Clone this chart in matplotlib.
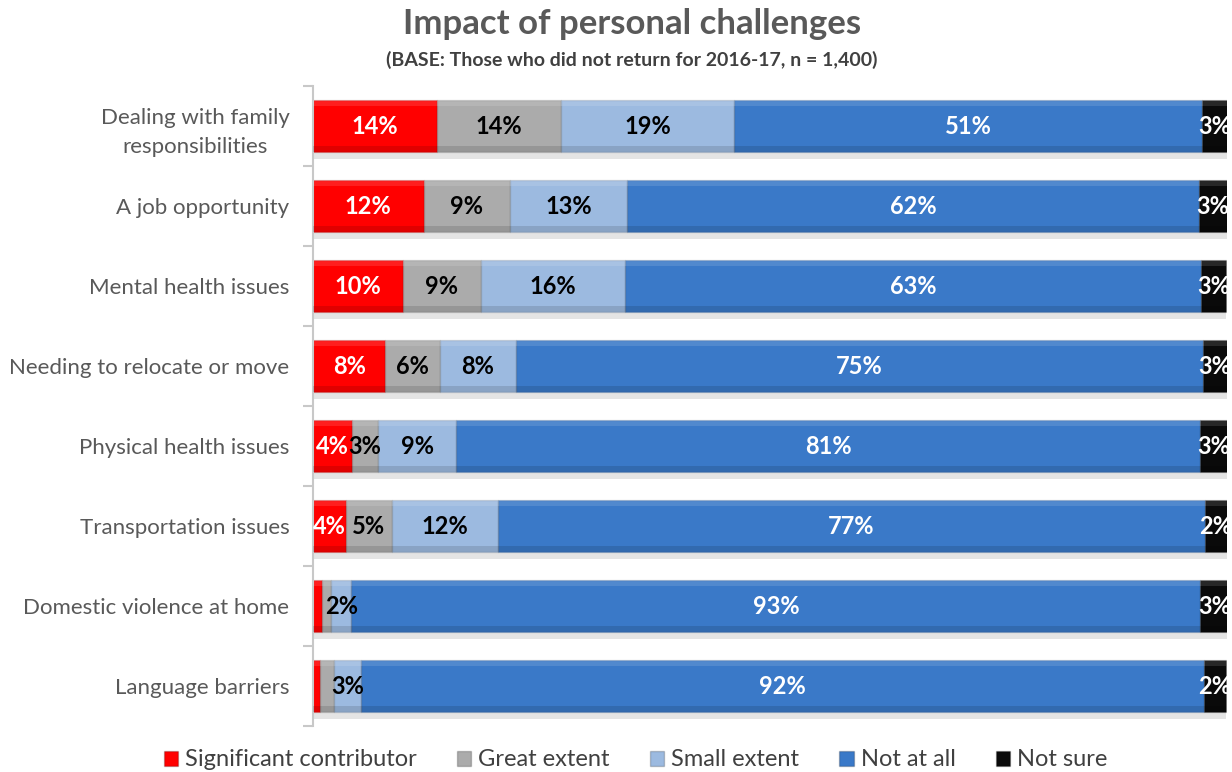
import matplotlib
matplotlib.use("Agg")
import matplotlib.pyplot as plt
from matplotlib.patches import Patch
import numpy as np

plt.rcParams['font.family'] = ['Lato', 'DejaVu Sans']

categories = ['Dealing with family\nresponsibilities', 'A job opportunity',
              'Mental health issues', 'Needing to relocate or move',
              'Physical health issues', 'Transportation issues',
              'Domestic violence at home', 'Language barriers']
series = ['Significant contributor', 'Great extent', 'Small extent',
          'Not at all', 'Not sure']
significant = [13.6, 12.1, 9.8, 7.9, 4.3, 3.6, 1.0, 0.8]
great = [13.5, 9.4, 8.6, 6.0, 2.8, 5.0, 1.0, 1.5]
small = [19.0, 12.9, 15.7, 8.3, 8.6, 11.6, 2.2, 3.0]
not_at_all = [51.2, 62.5, 63.1, 75.2, 81.3, 77.4, 92.9, 92.2]
not_sure = [2.7, 3.1, 2.7, 2.6, 3.0, 2.4, 3.0, 2.4]

colors = ['#FF0000', '#ABABAB', '#9CBAE0', '#3A79C8', '#0A0A0A']
label_colors = ['white', 'black', 'black', 'white', 'white']
min_label = [3, 2.5, 2, 3, 2]

data = np.array([significant, great, small, not_at_all, not_sure])
y = np.arange(len(categories))

fig = plt.figure(figsize=(12.32, 7.72), dpi=100)
ax = fig.add_axes([313/1232, 1 - 726/772, 914/1232, 640/772])

h = 0.66
lefts = np.zeros(len(categories))
for i, vals in enumerate(data):
    # soft shadow under the bars
    ax.barh(y + 0.08, vals, left=lefts, height=h, color='#E4E4E4', zorder=1)
    ax.barh(y, vals, left=lefts, height=h, color=colors[i], zorder=2,
            edgecolor=(0, 0, 0, 0.12), linewidth=1)
    # bevel: light top, dark bottom
    ax.barh(y - h/2 + 0.04, vals, left=lefts, height=0.08,
            color='white', alpha=0.12, zorder=3, linewidth=0)
    ax.barh(y + h/2 - 0.04, vals, left=lefts, height=0.08,
            color='black', alpha=0.12, zorder=3, linewidth=0)
    for j, v in enumerate(vals):
        if v >= min_label[i]:
            ax.text(lefts[j] + v/2, y[j], '%d%%' % round(v),
                    ha='center', va='center', fontsize=17, fontweight='bold',
                    color=label_colors[i], zorder=4, clip_on=False)
    lefts = lefts + vals

ax.set_xlim(0, 100)
ax.set_ylim(len(categories) - 0.5, -0.5)
ax.set_xticks([])
ax.set_yticks(y)
ax.set_yticklabels(categories, fontsize=16, color='#595959')
ax.get_yticklabels()[0].set_multialignment('center')
ax.get_yticklabels()[0].set_linespacing(1.55)
ax.set_yticks(np.arange(len(categories) + 1) - 0.5, minor=True)
ax.tick_params(axis='y', which='major', length=0, pad=17)
ax.tick_params(axis='y', which='minor', length=7, color='#C8C8C8', width=1.5)
for s in ['top', 'right', 'bottom']:
    ax.spines[s].set_visible(False)
ax.spines['left'].set_color('#C8C8C8')
ax.spines['left'].set_linewidth(1.5)

fig.text(0.513, 1 - 24/772, 'Impact of personal challenges', ha='center',
         va='center', fontsize=25, fontweight='bold', color='#595959')
fig.text(0.513, 1 - 60/772,
         '(BASE: Those who did not return for 2016-17, n = 1,400)',
         ha='center', va='center', fontsize=14, fontweight='bold', color='#404040')

handles = [Patch(facecolor=c, edgecolor=(0, 0, 0, 0.2)) for c in colors]
fig.legend(handles, series, loc='center', bbox_to_anchor=(0.516, 1 - 760/772),
           ncol=5, frameon=False, fontsize=17, handlelength=0.6,
           handleheight=0.6, handletextpad=0.3, columnspacing=1.7,
           labelcolor='#404040')

fig.savefig('out.png', dpi=100)
